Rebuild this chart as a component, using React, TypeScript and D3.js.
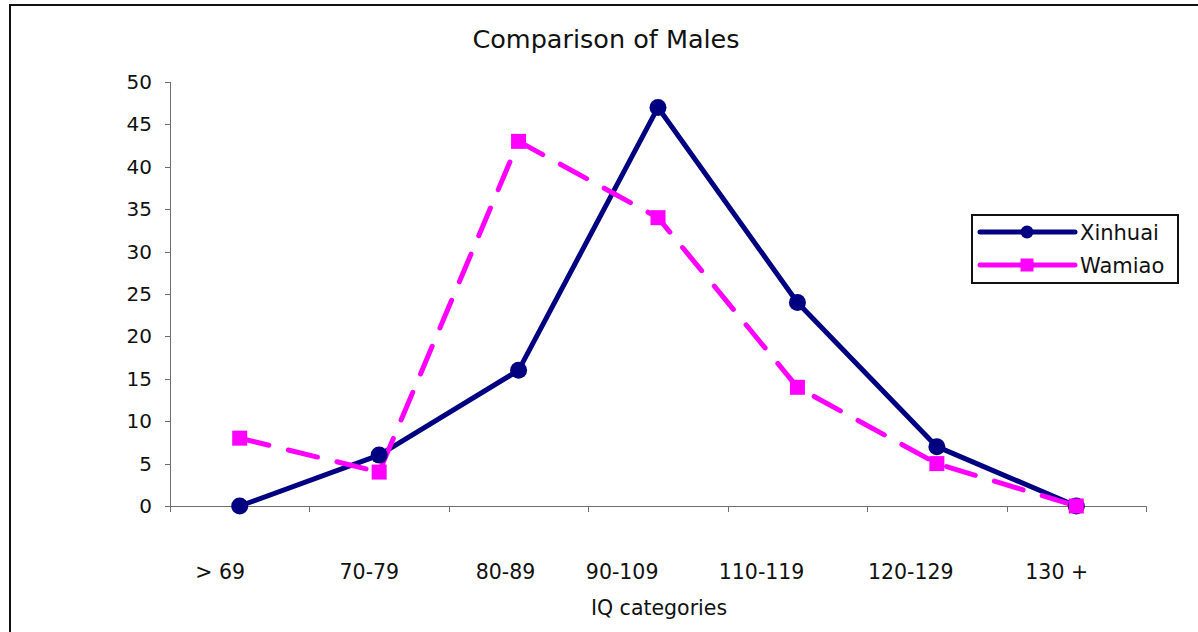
import React from "react";
import * as d3 from "d3";

const categories = ["> 69", "70-79", "80-89", "90-109", "110-119", "120-129", "130 +"];
// trailing spaces reproduce the original's off-centre label placement
const categoryLabels = ["> 69      ", "70-79   ", "80-89    ", "90-109           ", "110-119           ", "120-129        ", "130 +      "];
const xinhuai = [0, 6, 16, 47, 24, 7, 0];
const wamiao = [8, 4, 43, 34, 14, 5, 0];
const yTicks = [0, 5, 10, 15, 20, 25, 30, 35, 40, 45, 50];
const seriesNames = ["Xinhuai", "Wamiao"];

const W = 1198;
const H = 632;
const FONT = "'DejaVu Sans', Verdana, sans-serif";
const NAVY = "#000080";
const MAGENTA = "#FF00FF";
const AXIS = "#6e6e6e";

export default function App() {
  const x = d3.scaleBand<string>().domain(categories).range([170, 1146]).paddingInner(0).paddingOuter(0);
  const y = d3.scaleLinear().domain([0, 50]).range([506, 82]);
  const cx = (c: string) => (x(c) as number) + x.bandwidth() / 2;

  const line = d3
    .line<number>()
    .x((_, i) => cx(categories[i]))
    .y((d) => y(d));

  const boundaries = [...categories.map((c) => x(c) as number), 1146];

  const legendX = 972;
  const legendY = 215;
  const sq = 15;
  const lsq = 13;

  return (
    <svg
      width={W}
      height={H}
      style={{ position: "fixed", left: 0, top: 0, background: "#fff" }}
      fontFamily={FONT}
    >
      <rect x={0} y={0} width={W} height={H} fill="#fff" />
      {/* chart frame */}
      <line x1={9} y1={5} x2={W} y2={5} stroke="#111" strokeWidth={2} />
      <line x1={10} y1={4} x2={10} y2={H} stroke="#111" strokeWidth={2} />

      {/* title */}
      <text x={606} y={48} textAnchor="middle" fontSize={25.5} fill="#111">
        Comparison of Males
      </text>

      {/* y axis */}
      <line x1={170.5} y1={y(50)} x2={170.5} y2={y(0)} stroke={AXIS} strokeWidth={1} />
      {yTicks.map((t) => (
        <g key={t}>
          <line x1={165} x2={170.5} y1={Math.round(y(t)) + 0.5} y2={Math.round(y(t)) + 0.5} stroke={AXIS} />
          <text x={152} y={y(t)} textAnchor="end" dominantBaseline="central" fontSize={20} fill="#111">
            {t}
          </text>
        </g>
      ))}

      {/* x axis */}
      <line x1={170} y1={506.5} x2={1146.5} y2={506.5} stroke={AXIS} strokeWidth={1} />
      {boundaries.map((b, i) => (
        <line key={i} x1={Math.round(b) + 0.5} x2={Math.round(b) + 0.5} y1={506.5} y2={512} stroke={AXIS} />
      ))}
      {categories.map((c, i) => (
        <text
          key={c}
          x={cx(c)}
          y={579}
          textAnchor="middle"
          fontSize={20.5}
          fill="#111"
          style={{ whiteSpace: "pre" }}
          xmlSpace="preserve"
        >
          {categoryLabels[i]}
        </text>
      ))}
      <text x={659} y={615} textAnchor="middle" fontSize={20.5} fill="#111">
        IQ categories
      </text>

      {/* lines */}
      <path d={line(xinhuai) || ""} fill="none" stroke={NAVY} strokeWidth={5} strokeLinejoin="round" />
      <path
        d={line(wamiao) || ""}
        fill="none"
        stroke={MAGENTA}
        strokeWidth={5}
        strokeDasharray="30 20"
        strokeLinecap="round"
        strokeLinejoin="round"
      />
      {/* markers */}
      {xinhuai.map((v, i) => (
        <circle key={"x" + i} cx={cx(categories[i])} cy={y(v)} r={8.5} fill={NAVY} />
      ))}
      {wamiao.map((v, i) => (
        <rect key={"w" + i} x={cx(categories[i]) - sq / 2} y={y(v) - sq / 2} width={sq} height={sq} fill={MAGENTA} />
      ))}

      {/* legend */}
      <rect x={legendX} y={legendY} width={206} height={68} fill="#fff" stroke="#111" strokeWidth={2} />
      <line x1={980} x2={1075} y1={232} y2={232} stroke={NAVY} strokeWidth={5} strokeLinecap="round" />
      <circle cx={1027} cy={232} r={6.5} fill={NAVY} />
      <text x={1080} y={233} dominantBaseline="central" fontSize={21} fill="#111">
        {seriesNames[0]}
      </text>
      <line x1={980} x2={1075} y1={265} y2={265} stroke={MAGENTA} strokeWidth={5} strokeLinecap="round" />
      <rect x={1027 - lsq / 2} y={265 - lsq / 2} width={lsq} height={lsq} fill={MAGENTA} />
      <text x={1080} y={266} dominantBaseline="central" fontSize={21} fill="#111">
        {seriesNames[1]}
      </text>
    </svg>
  );
}
